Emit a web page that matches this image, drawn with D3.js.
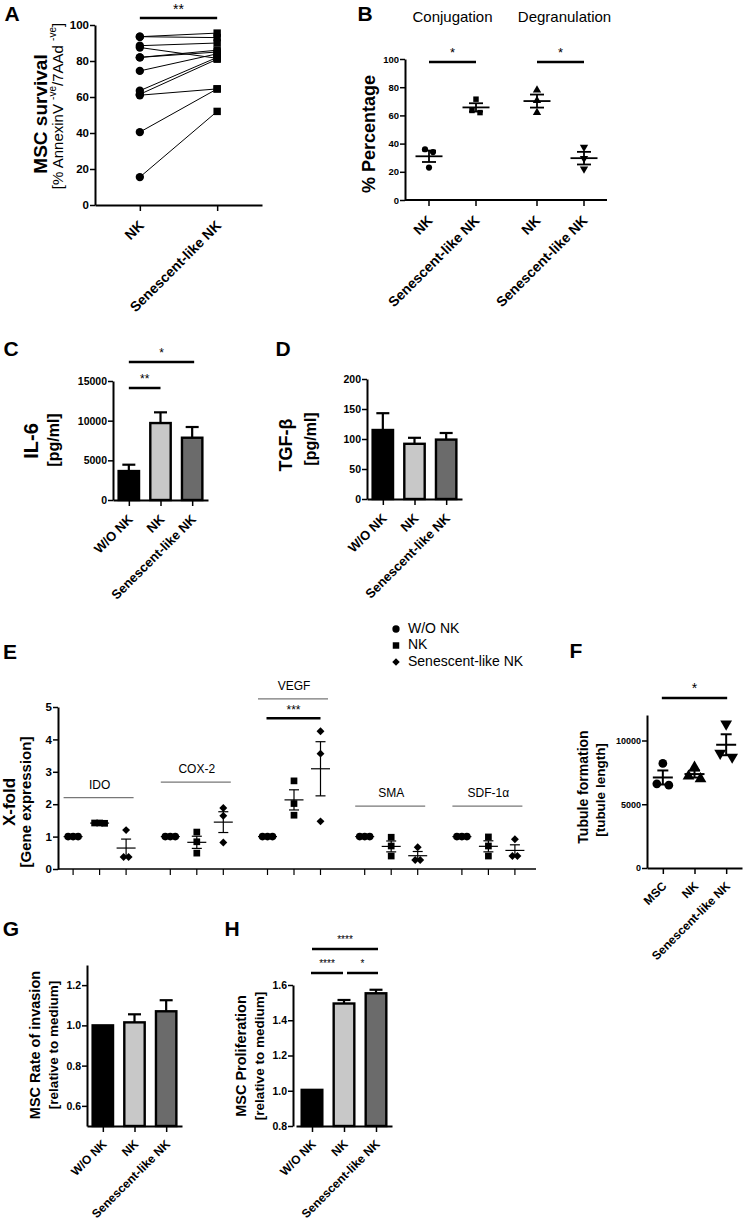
<!DOCTYPE html>
<html>
<head>
<meta charset="utf-8">
<script src="https://cdn.jsdelivr.net/npm/d3@7"></script>
<style>
  body { margin: 0; background: #fff; }
  svg { display: block; font-family: Arial, "Liberation Sans", Helvetica, sans-serif; }
  text { fill: #000; }
</style>
</head>
<body>
<div class="visHolder"></div>
<script>
// ---------- data ----------
const threeGroups = ["W/O NK", "NK", "Senescent-like NK"];
const twoGroups = ["NK", "Senescent-like NK"];

// A: paired MSC survival (%)
const survivalNK = [93.5, 93.5, 88.5, 87.5, 82, 82, 74.5, 63.5, 61.5, 61, 40.5, 15.5];
const survivalSenNK = [95.5, 93, 90, 81.5, 86, 85, 84, 82, 81, 64.5, 64.5, 52];
const survivalTicks = [0, 20, 40, 60, 80, 100];

// B: conjugation / degranulation (%)
const assays = ["Conjugation", "Degranulation"];
const conjNK = [36, 34, 23];
const conjSenNK = [71.5, 62, 63.5];
const degNK = [78, 70.5, 62];
const degSenNK = [37.5, 29.5, 22];
const percentTicks = [0, 20, 40, 60, 80, 100];

// C: IL-6 (pg/ml)
const il6Mean = [3650, 9700, 7850];
const il6Err = [800, 1350, 1350];
const il6Ticks = [0, 5000, 10000, 15000];

// D: TGF-beta (pg/ml)
const tgfMean = [115, 92, 99];
const tgfErr = [28, 10, 11];
const tgfTicks = [0, 50, 100, 150, 200];

// E: gene expression x-fold
const genes = ["IDO", "COX-2", "VEGF", "SMA", "SDF-1α"];
const geneWoNK = [[1, 1, 1], [1, 1, 1], [1, 1, 1], [1, 1, 1], [1, 1, 1]];
const geneNK = [[1.42, 1.42, 1.41], [1.14, 0.84, 0.49], [2.72, 2.02, 1.66], [0.98, 0.71, 0.40], [0.99, 0.71, 0.40]];
const geneSenNK = [[1.2, 0.37, 0.37], [1.88, 1.64, 0.82], [4.25, 3.56, 1.47], [0.67, 0.28, 0.28], [0.92, 0.40, 0.40]];
const geneTicks = [0, 1, 2, 3, 4, 5];

// F: tubule length
const tubeGroups = ["MSC", "NK", "Senescent-like NK"];
const tubeMSC = [8200, 6600, 6500];
const tubeNK = [7900, 7200, 7000];
const tubeSenNK = [11300, 9000, 8700];
const tubeTicks = [0, 5000, 10000];

// G: invasion
const invasionMean = [1.0, 1.015, 1.07];
const invasionErr = [0, 0.04, 0.055];
const invasionTicks = [0.6, 0.8, 1.0, 1.2];

// H: proliferation
const prolifMean = [1.005, 1.495, 1.553];
const prolifErr = [0, 0.02, 0.02];
const prolifTicks = [0.8, 1.0, 1.2, 1.4, 1.6];

const barFills = ["#000000", "#c8c8c8", "#6b6b6b"];

// ---------- helpers ----------
const svg = d3.select(".visHolder").append("svg").attr("width", 744).attr("height", 1228);

function letter(t, x, y) {
  svg.append("text").attr("x", x).attr("y", y).attr("dominant-baseline", "middle")
    .attr("text-anchor", "middle").attr("font-size", 21).attr("font-weight", "bold").text(t);
}

function vTitle(t, x, y, size, weight) {
  return svg.append("text").attr("transform", "translate(" + x + "," + y + ") rotate(-90)")
    .attr("text-anchor", "middle").attr("dominant-baseline", "middle")
    .attr("font-size", size).attr("font-weight", weight || "bold").text(t);
}

function leftAxis(scale, x, ticks, fmt, fs) {
  const g = svg.append("g").attr("transform", "translate(" + x + ",0)")
    .call(d3.axisLeft(scale).tickValues(ticks).tickFormat(fmt).tickSize(5).tickSizeOuter(0));
  g.select(".domain").attr("stroke-width", 2);
  g.selectAll(".tick line").attr("stroke-width", 1.5);
  g.selectAll(".tick text").attr("font-size", fs).attr("font-weight", "bold")
    .attr("font-family", null).attr("fill", "#111").attr("x", -6);
  return g;
}

function bottomAxis(scale, y, fs) {
  const g = svg.append("g").attr("transform", "translate(0," + y + ")")
    .call(d3.axisBottom(scale).tickSize(6).tickSizeOuter(0));
  g.select(".domain").attr("stroke-width", 2);
  g.selectAll(".tick line").attr("stroke-width", 1.5);
  g.selectAll(".tick text").attr("font-size", fs).attr("font-weight", "bold")
    .attr("font-family", null).attr("fill", "#111")
    .attr("y", 0).attr("dy", "0.35em").attr("dx", "-0.1em")
    .attr("text-anchor", "end")
    .attr("transform", "translate(2," + (fs + 3) + ") rotate(-45)");
  return g;
}

function sigBar(x1, x2, y, label, fs, gap) {
  svg.append("line").attr("x1", x1).attr("x2", x2).attr("y1", y).attr("y2", y)
    .attr("stroke", "#000").attr("stroke-width", 2.5);
  svg.append("text").attr("x", (x1 + x2) / 2).attr("y", y - (gap || 6))
    .attr("text-anchor", "middle").attr("font-size", fs).attr("fill", "#000").text(label);
}

function spread(vals, thr, gap) {
  const idx = vals.map((v, i) => i).sort((a, b) => vals[b] - vals[a]);
  const off = vals.map(() => 0);
  let cl = [idx[0]];
  const flush = () => cl.forEach((k, j) => { off[k] = (j - (cl.length - 1) / 2) * gap; });
  for (let i = 1; i < idx.length; i++) {
    if (vals[idx[i - 1]] - vals[idx[i]] < thr) cl.push(idx[i]);
    else { flush(); cl = [idx[i]]; }
  }
  flush();
  return off;
}

function semOf(vals) {
  return vals.length > 1 ? d3.deviation(vals) / Math.sqrt(vals.length) : 0;
}

const symCircle = d3.symbol().type(d3.symbolCircle);
const symSquare = d3.symbol().type(d3.symbolSquare);
const symTri = d3.symbol().type(d3.symbolTriangle);

function marker(kind, x, y, size) {
  let path, rot = 0;
  if (kind === "circle") path = symCircle.size(size)();
  else if (kind === "square") path = symSquare.size(size)();
  else if (kind === "diamond") { path = symSquare.size(size * 0.7)(); rot = 45; }
  else if (kind === "triup") path = symTri.size(size)();
  else { path = symTri.size(size)(); rot = 180; }
  svg.append("path").attr("d", path).attr("fill", "#000")
    .attr("transform", "translate(" + x + "," + y + ") rotate(" + rot + ")");
}

// scatter with mean + SEM
function dotGroup(vals, cx, y, kind, opt) {
  const off = spread(vals, opt.thr, opt.gap);
  vals.forEach((v, i) => marker(kind, cx + off[i], y(v), opt.size));
  const m = d3.mean(vals), s = semOf(vals);
  const g = svg.append("g").attr("stroke", "#000").attr("fill", "none");
  g.append("line").attr("x1", cx - opt.meanW / 2).attr("x2", cx + opt.meanW / 2)
    .attr("y1", y(m)).attr("y2", y(m)).attr("stroke-width", opt.lw);
  if (s > 0) {
    g.append("line").attr("x1", cx).attr("x2", cx).attr("y1", y(m + s)).attr("y2", y(m - s))
      .attr("stroke-width", opt.lw);
    [m + s, m - s].forEach(v => g.append("line").attr("x1", cx - opt.capW / 2).attr("x2", cx + opt.capW / 2)
      .attr("y1", y(v)).attr("y2", y(v)).attr("stroke-width", opt.lw));
  }
}

// bar chart with upper SEM
function barPanel(x, y, means, errs, base) {
  const bw = x.step() * 0.72;
  const g = svg.append("g");
  g.selectAll("line.err").data(means).enter().append("line")
    .attr("x1", (d, i) => x(threeGroups[i])).attr("x2", (d, i) => x(threeGroups[i]))
    .attr("y1", d => y(d)).attr("y2", (d, i) => y(d + errs[i]))
    .attr("stroke", "#000").attr("stroke-width", 2.2);
  g.selectAll("line.cap").data(means).enter().append("line")
    .attr("x1", (d, i) => x(threeGroups[i]) - 6.5).attr("x2", (d, i) => x(threeGroups[i]) + 6.5)
    .attr("y1", (d, i) => y(d + errs[i])).attr("y2", (d, i) => y(d + errs[i]))
    .attr("stroke", "#000").attr("stroke-width", 2.2)
    .attr("opacity", (d, i) => errs[i] > 0 ? 1 : 0);
  g.selectAll("rect").data(means).enter().append("rect")
    .attr("x", (d, i) => x(threeGroups[i]) - bw / 2 + 1.2)
    .attr("width", bw - 2.4)
    .attr("y", d => y(d))
    .attr("height", d => y(base) - y(d))
    .attr("fill", (d, i) => barFills[i])
    .attr("stroke", "#000").attr("stroke-width", 2.4);
}

// ---------- A ----------
letter("A", 12, 15);
const yA = d3.scaleLinear().domain([0, 100]).range([205, 25]);
const xA = d3.scalePoint().domain(twoGroups).range([95, 262]).padding(0.58);
survivalNK.forEach((v, i) => {
  svg.append("line").attr("x1", xA("NK")).attr("x2", xA("Senescent-like NK"))
    .attr("y1", yA(v)).attr("y2", yA(survivalSenNK[i])).attr("stroke", "#000").attr("stroke-width", 1);
});
survivalNK.forEach(v => marker("circle", xA("NK"), yA(v), 55));
survivalSenNK.forEach(v => marker("square", xA("Senescent-like NK"), yA(v), 55));
leftAxis(yA, 95, survivalTicks, d3.format("d"), 11.5);
bottomAxis(xA, 205, 14);
sigBar(xA("NK"), xA("Senescent-like NK"), 18, "**", 14, 4);
vTitle("MSC survival", 42, 114, 19);
const tA = vTitle("", 59, 106, 15, "normal");
tA.append("tspan").text("[% AnnexinV ");
tA.append("tspan").attr("dy", -6).attr("font-size", 10).text("-ve");
tA.append("tspan").attr("dy", 6).text("/7AAd ");
tA.append("tspan").attr("dy", -6).attr("font-size", 10).text("-ve");
tA.append("tspan").attr("dy", 6).text("]");

// ---------- B ----------
letter("B", 365, 15);
const yB = d3.scaleLinear().domain([0, 100]).range([200, 59]);
const xBgroup = d3.scaleBand().domain(assays).range([398.5, 614.5]);
const xBin = d3.scalePoint().domain(twoGroups).range([-23.5, 23.5]);
assays.forEach(a => {
  svg.append("text").attr("x", xBgroup(a) + xBgroup.bandwidth() / 2 + (a === "Degranulation" ? 4 : 0))
    .attr("y", 18).attr("text-anchor", "middle").attr("dominant-baseline", "middle")
    .attr("font-size", 15).text(a);
});
const bx = (a, k) => xBgroup(a) + xBgroup.bandwidth() / 2 + xBin(k);
const optB = { thr: 4, gap: 8, size: 30, meanW: 27, capW: 14, lw: 1.8 };
dotGroup(conjNK, bx("Conjugation", "NK"), yB, "circle", optB);
dotGroup(conjSenNK, bx("Conjugation", "Senescent-like NK"), yB, "square", optB);
dotGroup(degNK, bx("Degranulation", "NK"), yB, "triup", optB);
dotGroup(degSenNK, bx("Degranulation", "Senescent-like NK"), yB, "tridown", optB);
leftAxis(yB, 405, percentTicks, d3.format("d"), 9.5);
{
  const g = svg.append("g").attr("transform", "translate(0,200)");
  g.append("line").attr("x1", 405).attr("x2", 607).attr("stroke", "#000").attr("stroke-width", 2);
  const keys = [];
  assays.forEach(a => twoGroups.forEach(k => keys.push({ x: bx(a, k), t: k })));
  const tk = g.selectAll("g").data(keys).enter().append("g").attr("transform", d => "translate(" + d.x + ",0)");
  tk.append("line").attr("y2", 6).attr("stroke", "#000").attr("stroke-width", 1.5);
  tk.append("text").attr("font-size", 14).attr("font-weight", "bold").attr("text-anchor", "end")
    .attr("dy", "0.35em").attr("dx", "-0.1em").attr("transform", "translate(2,17) rotate(-45)").text(d => d.t);
}
sigBar(bx("Conjugation", "NK"), bx("Conjugation", "Senescent-like NK"), 62, "*", 13, 5);
sigBar(bx("Degranulation", "NK"), bx("Degranulation", "Senescent-like NK"), 62, "*", 13, 5);
vTitle("% Percentage", 370, 134, 18);

// ---------- C ----------
letter("C", 11, 350);
const yC = d3.scaleLinear().domain([0, 15000]).range([500, 381]);
const xC = d3.scalePoint().domain(threeGroups).range([113, 208]).padding(0.5);
barPanel(xC, yC, il6Mean, il6Err, 0);
leftAxis(yC, 113, il6Ticks, d3.format("d"), 10.5);
bottomAxis(xC, 500, 13);
sigBar(xC("W/O NK"), xC("NK"), 388, "**", 12, 5);
sigBar(xC("W/O NK"), xC("Senescent-like NK") + 2, 362, "*", 12, 5);
vTitle("IL-6", 33, 441, 20);
vTitle("[pg/ml]", 55, 440, 16);

// ---------- D ----------
letter("D", 283, 350);
const yD = d3.scaleLinear().domain([0, 200]).range([499, 379]);
const xD = d3.scalePoint().domain(threeGroups).range([367, 462]).padding(0.5);
barPanel(xD, yD, tgfMean, tgfErr, 0);
leftAxis(yD, 367, tgfTicks, d3.format("d"), 10.5);
bottomAxis(xD, 499, 13);
vTitle("TGF-β", 287, 445, 18);
vTitle("[pg/ml]", 312, 439, 16);

// ---------- E ----------
letter("E", 10, 653);
const yE = d3.scaleLinear().domain([0, 5]).range([869, 707]);
const xEgroup = d3.scaleBand().domain(genes).range([51, 537]);
const xEin = d3.scalePoint().domain(threeGroups).range([-26.5, 26.5]);
const ex = (gname, k) => xEgroup(gname) + xEgroup.bandwidth() / 2 + xEin(k);
const optE = { thr: 0.2, gap: 5, size: 45, meanW: 19, capW: 10, lw: 1.2 };
genes.forEach((gname, i) => {
  dotGroup(geneWoNK[i], ex(gname, "W/O NK"), yE, "circle", optE);
  dotGroup(geneNK[i], ex(gname, "NK"), yE, "square", optE);
  dotGroup(geneSenNK[i], ex(gname, "Senescent-like NK"), yE, "diamond", optE);
});
leftAxis(yE, 58, geneTicks, d3.format("d"), 11.5);
{
  const g = svg.append("g").attr("transform", "translate(0," + yE(0) + ")");
  g.append("line").attr("x1", 58).attr("x2", 536).attr("stroke", "#000").attr("stroke-width", 1.5);
  const keys = [];
  genes.forEach(gname => threeGroups.forEach(k => keys.push(ex(gname, k))));
  g.selectAll("line.t").data(keys).enter().append("line")
    .attr("x1", d => d).attr("x2", d => d).attr("y2", 6).attr("stroke", "#000").attr("stroke-width", 1.2);
}
// gene labels with grey lines
const geneLabelLevel = { "IDO": 2.2, "COX-2": 2.68, "VEGF": 5.25, "SMA": 1.94, "SDF-1α": 1.94 };
genes.forEach(gname => {
  const c = xEgroup(gname) + xEgroup.bandwidth() / 2;
  const yy = yE(geneLabelLevel[gname]);
  svg.append("line").attr("x1", c - 36).attr("x2", c + 34).attr("y1", yy).attr("y2", yy)
    .attr("stroke", "#777").attr("stroke-width", 1.3);
  svg.append("text").attr("x", c).attr("y", yy - 12).attr("text-anchor", "middle")
    .attr("dominant-baseline", "middle").attr("font-size", 12).text(gname);
});
sigBar(ex("VEGF", "W/O NK") - 1, ex("VEGF", "Senescent-like NK"), yE(4.65), "***", 12, 4);
vTitle("X-fold", 11, 802, 17);
vTitle("[Gene expression]", 27, 802, 15);

// legend
const legendKinds = ["circle", "square", "diamond"];
threeGroups.forEach((name, i) => {
  const ly = 629 + i * 16.5;
  marker(legendKinds[i], 396, ly, i === 2 ? 40 : 42);
  svg.append("text").attr("x", 408).attr("y", ly).attr("dominant-baseline", "middle")
    .attr("font-size", 14).text(name);
});

// ---------- F ----------
letter("F", 576, 652);
const yF = d3.scaleLinear().domain([0, 12000]).range([868, 715]);
const xF = d3.scalePoint().domain(tubeGroups).range([647, 742]).padding(0.5);
const optF = { thr: 400, gap: 12, size: 60, meanW: 20, capW: 11, lw: 2 };
dotGroup(tubeMSC, xF("MSC"), yF, "circle", optF);
dotGroup(tubeNK, xF("NK"), yF, "triup", optF);
dotGroup(tubeSenNK, xF("Senescent-like NK"), yF, "tridown", optF);
leftAxis(yF, 647, tubeTicks, d3.format("d"), 9);
bottomAxis(xF, 868, 12);
sigBar(xF("MSC") - 1, xF("Senescent-like NK") + 1, 698, "*", 14, 5);
vTitle("Tubule formation", 584, 787, 14);
vTitle("[tubule length]", 601, 790, 13.5);

// ---------- G ----------
letter("G", 11, 930);
const yG = d3.scaleLinear().domain([0.5, 1.3]).range([1126, 965]);
const xG = d3.scalePoint().domain(threeGroups).range([87, 182]).padding(0.5);
barPanel(xG, yG, invasionMean, invasionErr, 0.5);
leftAxis(yG, 87, invasionTicks, d3.format(".1f"), 10.5);
bottomAxis(xG, 1126, 12);
vTitle("MSC Rate of invasion", 36, 1045, 14.5);
vTitle("[relative to medium]", 54, 1045, 13.5);

// ---------- H ----------
letter("H", 232, 930);
const yH = d3.scaleLinear().domain([0.8, 1.6]).range([1126, 985]);
const xH = d3.scalePoint().domain(threeGroups).range([296, 392]).padding(0.5);
barPanel(xH, yH, prolifMean, prolifErr, 0.8);
leftAxis(yH, 293, prolifTicks, d3.format(".1f"), 10.5);
bottomAxis(xH, 1126, 12);
sigBar(xH("W/O NK"), xH("Senescent-like NK") + 2, 949, "****", 10, 6);
sigBar(xH("W/O NK") - 1, xH("NK") - 1, 973, "****", 10, 6);
sigBar(xH("NK") + 3, xH("Senescent-like NK") + 2, 973, "*", 10, 6);
vTitle("MSC Proliferation", 242, 1056, 14.5);
vTitle("[relative to medium]", 260, 1056, 13.5);
</script>
</body>
</html>
